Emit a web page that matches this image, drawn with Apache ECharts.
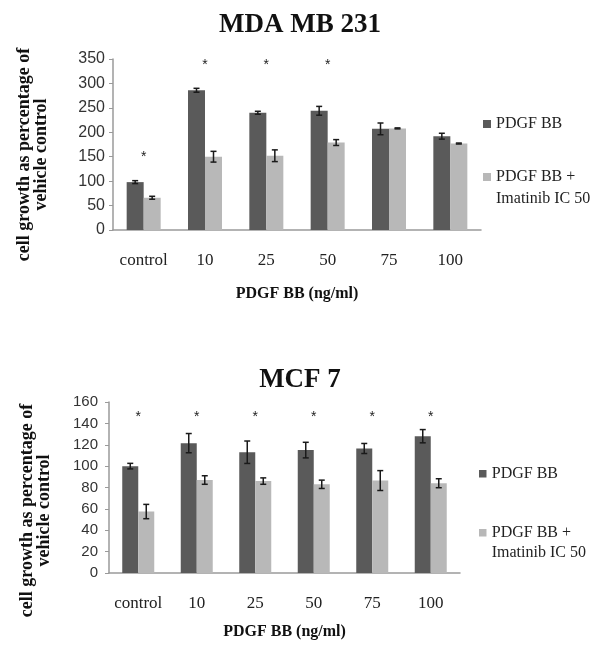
<!DOCTYPE html>
<html>
<head>
<meta charset="utf-8">
<script src="https://cdn.jsdelivr.net/npm/echarts@6/dist/echarts.min.js"></script>
<style>html,body{margin:0;padding:0;background:#fff;}#c{width:600px;height:653px;}</style>
</head>
<body>
<div id="c"></div>
<script>
// ---- data ----
var categories = ['control', '10', '25', '50', '75', '100'];
var mdaTicks = [0, 50, 100, 150, 200, 250, 300, 350];
var mcfTicks = [0, 20, 40, 60, 80, 100, 120, 140, 160];
var mdaPdgf = [98, 286, 240, 244, 207, 192];
var mdaPdgfErr = [3, 4, 3, 9, 12, 6];
var mdaImat = [66, 150, 152, 179, 208, 177];
var mdaImatErr = [3, 11, 12, 6, 1, 1];
var mdaStars = [150, 338, 338, 338, null, null];
var mcfPdgf = [100, 121.5, 113, 115, 116.5, 128];
var mcfPdgfErr = [2.6, 9, 10.5, 7.3, 4.7, 6.2];
var mcfImat = [57.5, 87, 86, 83, 86.5, 84];
var mcfImatErr = [6.7, 4, 3, 3.9, 9.3, 4.2];
var mcfStars = [146, 146, 146, 146, 146, 146];
var seriesNames = ['PDGF BB', 'PDGF BB + Imatinib IC 50'];

var SERIF = "'Liberation Serif','Times New Roman',serif";
var SANS = "'Liberation Sans',Arial,sans-serif";
var DARK = '#5a5a5a', LIGHT = '#b8b8b8';

function errData(vals, errs) {
  return vals.map(function (v, i) { return [i, v, errs[i]]; });
}
function errSeries(vals, errs, idx, offset) {
  return {
    type: 'custom', xAxisIndex: idx, yAxisIndex: idx, z: 5,
    data: errData(vals, errs),
    encode: { x: 0, y: 1 },
    renderItem: function (params, api) {
      var i = api.value(0), v = api.value(1), e = api.value(2);
      var hi = api.coord([i, v + e]);
      var lo = api.coord([i, v - e]);
      var x = hi[0] + offset, c = 3;
      var st = { stroke: '#1a1a1a', lineWidth: 1.5 };
      return { type: 'group', children: [
        { type: 'line', shape: { x1: x, y1: hi[1], x2: x, y2: lo[1] }, style: st },
        { type: 'line', shape: { x1: x - c, y1: hi[1], x2: x + c, y2: hi[1] }, style: st },
        { type: 'line', shape: { x1: x - c, y1: lo[1], x2: x + c, y2: lo[1] }, style: st }
      ]};
    }
  };
}
function starSeries(vals, idx) {
  return {
    type: 'custom', xAxisIndex: idx, yAxisIndex: idx, z: 5,
    data: vals.map(function (v, i) { return v == null ? null : [i, v]; }).filter(function (d) { return d; }),
    encode: { x: 0, y: 1 },
    renderItem: function (params, api) {
      var p = api.coord([api.value(0), api.value(1)]);
      return { type: 'text', x: p[0], y: p[1],
        style: { text: '*', fill: '#222', font: "14px " + SANS, align: 'center', verticalAlign: 'middle' } };
    }
  };
}
function xAxisCfg(idx) {
  return {
    type: 'category', gridIndex: idx, data: categories,
    axisLine: { lineStyle: { color: '#9a9a9a', width: 1.5 } },
    axisTick: { show: false },
    axisLabel: { interval: 0, fontFamily: SERIF, fontSize: 17, color: '#222', margin: 22 },
    name: 'PDGF BB (ng/ml)', nameLocation: 'middle', nameGap: idx === 0 ? 56 : 51,
    nameTextStyle: { fontFamily: SERIF, fontWeight: 'bold', fontSize: 16, color: '#111' }
  };
}
function yAxisCfg(idx, ticks) {
  var iv = ticks[1] - ticks[0];
  return {
    type: 'value', gridIndex: idx, min: ticks[0], max: ticks[ticks.length - 1], interval: iv,
    axisLine: { show: true, lineStyle: { color: '#9a9a9a', width: 1.5 } },
    axisTick: { show: true, length: 4, lineStyle: { color: '#9a9a9a' } },
    splitLine: { show: false },
    axisLabel: { fontFamily: SANS, fontSize: idx === 0 ? 16 : 15, color: '#333', margin: idx === 0 ? 8 : 11 },
    name: 'cell growth as percentage of\nvehicle control', nameLocation: 'middle',
    nameGap: idx === 0 ? 63 : 56,
    nameTextStyle: { fontFamily: SERIF, fontWeight: 'bold', fontSize: 18, lineHeight: 17, color: '#111',
      padding: idx === 0 ? [0, 20, 0, 0] : [0, 46, 0, 0] }
  };
}
var bw0 = 17, bw1 = 16;
var tallIcon = 'path://M0,0L10,0L10,10L0,10Z M0,37.4L0.01,37.4L0.01,37.41Z';
function legendFmt(n) { return n === seriesNames[1] ? 'PDGF BB +\nImatinib IC 50' : n + '\n '; }

var option = {
  animation: false,
  backgroundColor: '#fff',
  title: [
    { text: 'MDA MB 231', left: 'center', top: 7,
      textStyle: { fontFamily: SERIF, fontWeight: 'bold', fontSize: 27, color: '#111' } },
    { text: 'MCF 7', left: 'center', top: 362,
      textStyle: { fontFamily: SERIF, fontWeight: 'bold', fontSize: 27, color: '#111' } }
  ],
  legend: [
    { orient: 'vertical', left: 478, top: 108, itemGap: 9, itemWidth: 8, itemHeight: 30, icon: tallIcon,
      textStyle: { fontFamily: SERIF, fontSize: 16, lineHeight: 22, color: '#222' },
      data: seriesNames, formatter: legendFmt },
    { orient: 'vertical', left: 474, top: 459, itemGap: 19, itemWidth: 8, itemHeight: 28, icon: tallIcon,
      textStyle: { fontFamily: SERIF, fontSize: 16, lineHeight: 20, color: '#222' },
      data: seriesNames, formatter: legendFmt }
  ],
  grid: [
    { left: 113, top: 59, width: 368, height: 171 },
    { left: 109, top: 402, width: 351, height: 171 }
  ],
  xAxis: [xAxisCfg(0), xAxisCfg(1)],
  yAxis: [yAxisCfg(0, mdaTicks), yAxisCfg(1, mcfTicks)],
  series: [
    { name: seriesNames[0], type: 'bar', xAxisIndex: 0, yAxisIndex: 0, data: mdaPdgf, barWidth: bw0, barGap: '0%', itemStyle: { color: DARK } },
    { name: seriesNames[1], type: 'bar', xAxisIndex: 0, yAxisIndex: 0, data: mdaImat, barWidth: bw0, barGap: '0%', itemStyle: { color: LIGHT } },
    { name: seriesNames[0], type: 'bar', xAxisIndex: 1, yAxisIndex: 1, data: mcfPdgf, barWidth: bw1, barGap: '0%', itemStyle: { color: DARK } },
    { name: seriesNames[1], type: 'bar', xAxisIndex: 1, yAxisIndex: 1, data: mcfImat, barWidth: bw1, barGap: '0%', itemStyle: { color: LIGHT } },
    errSeries(mdaPdgf, mdaPdgfErr, 0, -bw0 / 2),
    errSeries(mdaImat, mdaImatErr, 0, bw0 / 2),
    errSeries(mcfPdgf, mcfPdgfErr, 1, -bw1 / 2),
    errSeries(mcfImat, mcfImatErr, 1, bw1 / 2),
    starSeries(mdaStars, 0),
    starSeries(mcfStars, 1)
  ]
};
var chart = echarts.init(document.getElementById('c'), null, { renderer: 'canvas' });
chart.setOption(option);
</script>
</body>
</html>
